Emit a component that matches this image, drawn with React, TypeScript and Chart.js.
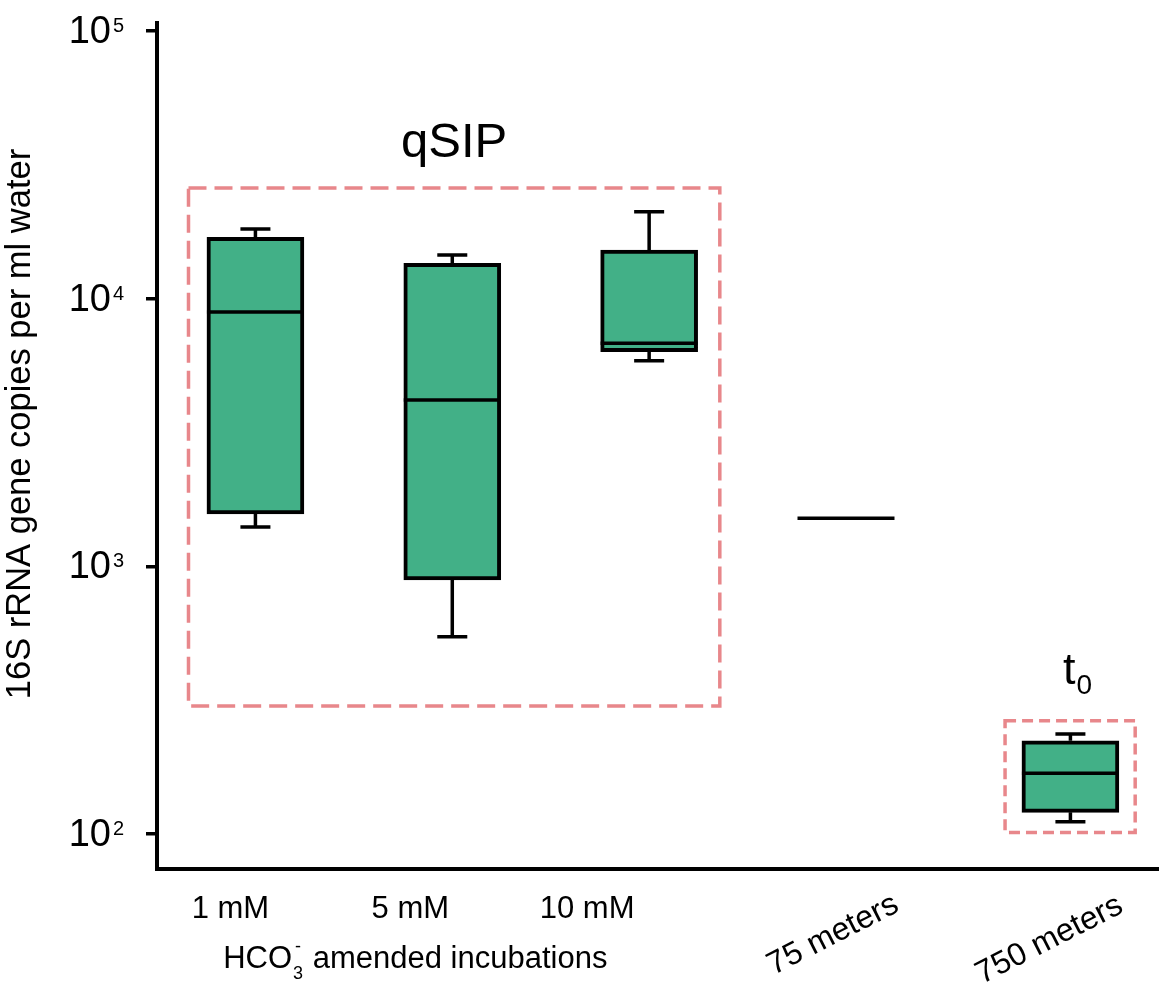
import React, { useEffect, useRef } from 'react';
import { Chart, registerables } from 'chart.js';

Chart.register(...registerables);

// ---- data ----
const categories = ['1 mM', '5 mM', '10 mM', '75 meters', '750 meters'];
const positions = [1, 2, 3, 4, 5.14];
const whiskerLow: (number | null)[] = [1403, 546, 5865, null, 111];
const boxLow: (number | null)[] = [1569, 889, 6340, null, 120.5];
const medians = [8920, 4180, 6810, 1511, 168.6];
const boxHigh: (number | null)[] = [16950, 13550, 15200, null, 223];
const whiskerHigh: (number | null)[] = [18200, 14560, 21130, null, 236.5];

const yTicks = [100, 1000, 10000, 100000];
const yTickExponents = ['2', '3', '4', '5'];

const regionNames = ['qSIP', 't0'];
const regionXRange = [[0.66, 3.359], [4.808, 5.469]];
const regionYRange = [[300.8, 25920], [101.4, 265]];

const yTitle = '16S rRNA gene copies per ml water';

// ---- styles / layout ----
const FONT = '"Liberation Sans", Arial, Helvetica, sans-serif';
const BOX_FILL = '#42b087';
const DASH_COLOR = '#e8878b';
const BOX_PX = 97;
const CAP_PX = 30;
const LINE_W = 3.5;
const labelOffsetPx = [-25, -42, -62, -13, -21];
const labelRotation = [0, 0, 0, -27, -27];

const boxPlugin = {
  id: 'boxExtras',
  beforeDatasetsDraw(chart: any) {
    const { ctx, scales } = chart;
    const xs = scales.x;
    const ys = scales.y;
    ctx.save();
    ctx.strokeStyle = DASH_COLOR;
    ctx.lineWidth = 3.5;
    regionNames.forEach((name, i) => {
      const x1 = xs.getPixelForValue(regionXRange[i][0]);
      const x2 = xs.getPixelForValue(regionXRange[i][1]);
      const y1 = ys.getPixelForValue(regionYRange[i][1]);
      const y2 = ys.getPixelForValue(regionYRange[i][0]);
      ctx.setLineDash(i === 0 ? [18, 8] : [11, 6]);
      ctx.strokeRect(x1, y1, x2 - x1, y2 - y1);
      ctx.setLineDash([]);
      ctx.fillStyle = '#000';
      ctx.textAlign = 'center';
      ctx.textBaseline = 'alphabetic';
      const cx = (x1 + x2) / 2;
      if (i === 0) {
        ctx.font = `49px ${FONT}`;
        ctx.fillText(name, cx, y1 - 31);
      } else {
        ctx.font = `45px ${FONT}`;
        const main = name.charAt(0);
        const sub = name.slice(1);
        const wMain = ctx.measureText(main).width;
        ctx.font = `28px ${FONT}`;
        const wSub = ctx.measureText(sub).width;
        const start = cx + 7 - (wMain + wSub) / 2;
        ctx.textAlign = 'left';
        ctx.font = `45px ${FONT}`;
        ctx.fillText(main, start, y1 - 37);
        ctx.font = `28px ${FONT}`;
        ctx.fillText(sub, start + wMain + 1, y1 - 27);
      }
    });
    ctx.restore();
  },
  afterDatasetsDraw(chart: any) {
    const { ctx, scales } = chart;
    const xs = scales.x;
    const ys = scales.y;
    ctx.save();
    ctx.strokeStyle = '#000';
    ctx.lineWidth = LINE_W;
    ctx.lineCap = 'butt';
    positions.forEach((p, i) => {
      const cx = xs.getPixelForValue(p);
      if (whiskerHigh[i] != null && boxHigh[i] != null) {
        const yb = ys.getPixelForValue(boxHigh[i]);
        const yc = ys.getPixelForValue(whiskerHigh[i]);
        ctx.beginPath();
        ctx.moveTo(cx, yb);
        ctx.lineTo(cx, yc);
        ctx.moveTo(cx - CAP_PX / 2, yc);
        ctx.lineTo(cx + CAP_PX / 2, yc);
        ctx.stroke();
      }
      if (whiskerLow[i] != null && boxLow[i] != null) {
        const yb = ys.getPixelForValue(boxLow[i]);
        const yc = ys.getPixelForValue(whiskerLow[i]);
        ctx.beginPath();
        ctx.moveTo(cx, yb);
        ctx.lineTo(cx, yc);
        ctx.moveTo(cx - CAP_PX / 2, yc);
        ctx.lineTo(cx + CAP_PX / 2, yc);
        ctx.stroke();
      }
      const ym = ys.getPixelForValue(medians[i]);
      ctx.beginPath();
      ctx.moveTo(cx - BOX_PX / 2, ym);
      ctx.lineTo(cx + BOX_PX / 2, ym);
      ctx.stroke();
    });
    ctx.restore();
  },
  afterDraw(chart: any) {
    const { ctx, scales, chartArea } = chart;
    const xs = scales.x;
    const ys = scales.y;
    ctx.save();
    ctx.fillStyle = '#000';
    // y tick labels: 10^n
    yTicks.forEach((v, i) => {
      const y = ys.getPixelForValue(v);
      const right = chartArea.left - 46;
      ctx.font = `38px ${FONT}`;
      ctx.textAlign = 'right';
      ctx.textBaseline = 'alphabetic';
      ctx.fillText('10', right, y + 12);
      ctx.font = `20px ${FONT}`;
      ctx.textAlign = 'left';
      ctx.fillText(yTickExponents[i], right + 2, y + 1);
    });
    // y title
    ctx.save();
    ctx.translate(30, 424);
    ctx.rotate(-Math.PI / 2);
    ctx.font = `34.5px ${FONT}`;
    ctx.textAlign = 'center';
    ctx.textBaseline = 'alphabetic';
    ctx.fillText(yTitle, 0, 0);
    ctx.restore();
    // x labels
    const baseY = chartArea.bottom;
    categories.forEach((c, i) => {
      const cx = xs.getPixelForValue(positions[i]) + labelOffsetPx[i];
      ctx.font = `31px ${FONT}`;
      if (labelRotation[i] === 0) {
        ctx.textAlign = 'center';
        ctx.textBaseline = 'alphabetic';
        ctx.fillText(c, cx, baseY + 49);
      } else {
        ctx.font = `32px ${FONT}`;
        ctx.save();
        ctx.translate(cx, baseY + 66 + (i === 4 ? 5 : 0));
        ctx.rotate((labelRotation[i] * Math.PI) / 180);
        ctx.textAlign = 'center';
        ctx.textBaseline = 'middle';
        ctx.fillText(c, 0, 0);
        ctx.restore();
      }
    });
    // group label: HCO3- amended incubations
    {
      const cx = xs.getPixelForValue(positions[1]) + labelOffsetPx[1] + 5;
      const by = baseY + 99;
      ctx.textBaseline = 'alphabetic';
      ctx.textAlign = 'left';
      ctx.font = `31px ${FONT}`;
      const wA = ctx.measureText('HCO').width;
      const wC = ctx.measureText(' amended incubations').width;
      ctx.font = `18px ${FONT}`;
      const wB = ctx.measureText('3').width;
      const total = wA + wB + 2 + wC;
      let x = cx - total / 2;
      ctx.font = `31px ${FONT}`;
      ctx.fillText('HCO', x, by);
      x += wA;
      ctx.font = `18px ${FONT}`;
      ctx.fillText('3', x + 1, by + 11);
      ctx.fillText('-', x + 3, by - 16);
      x += wB + 2;
      ctx.font = `31px ${FONT}`;
      ctx.fillText(' amended incubations', x, by);
    }
    ctx.restore();
  },
};

export default function App() {
  const canvasRef = useRef<HTMLCanvasElement | null>(null);

  useEffect(() => {
    document.body.style.margin = '0';
    const canvas = canvasRef.current;
    if (!canvas) return;
    const boxData = positions
      .map((p, i) =>
        boxLow[i] != null && boxHigh[i] != null ? { x: p, y: [boxLow[i], boxHigh[i]] } : null
      )
      .filter((d) => d !== null);

    const chart = new Chart(canvas, {
      type: 'bar',
      data: {
        datasets: [
          {
            data: boxData as any,
            backgroundColor: BOX_FILL,
            borderColor: '#000',
            borderWidth: 4,
            borderSkipped: false,
            barThickness: BOX_PX,
          } as any,
        ],
      },
      options: {
        responsive: false,
        animation: false,
        devicePixelRatio: 1,
        layout: { padding: { top: 23, left: 0, right: 0, bottom: 0 } },
        plugins: { legend: { display: false }, tooltip: { enabled: false } },
        scales: {
          x: {
            type: 'linear',
            min: 0.5,
            max: 5.59,
            offset: false,
            grid: { display: false },
            ticks: { display: false },
            border: { display: true, color: '#000', width: 4 },
            afterFit: (s: any) => {
              s.height = 121;
            },
          },
          y: {
            type: 'logarithmic',
            min: 74,
            max: 107100,
            grid: {
              drawOnChartArea: false,
              drawTicks: true,
              tickLength: 11,
              color: '#000',
              lineWidth: 3.5,
            },
            ticks: { display: false },
            border: { display: true, color: '#000', width: 4 },
            afterBuildTicks: (s: any) => {
              s.ticks = yTicks.map((v) => ({ value: v }));
            },
            afterFit: (s: any) => {
              s.width = 157;
            },
          },
        },
      } as any,
      plugins: [boxPlugin],
    });
    return () => chart.destroy();
  }, []);

  return (
    <div style={{ width: 1159, height: 990 }}>
      <canvas ref={canvasRef} width={1159} height={990} />
    </div>
  );
}
